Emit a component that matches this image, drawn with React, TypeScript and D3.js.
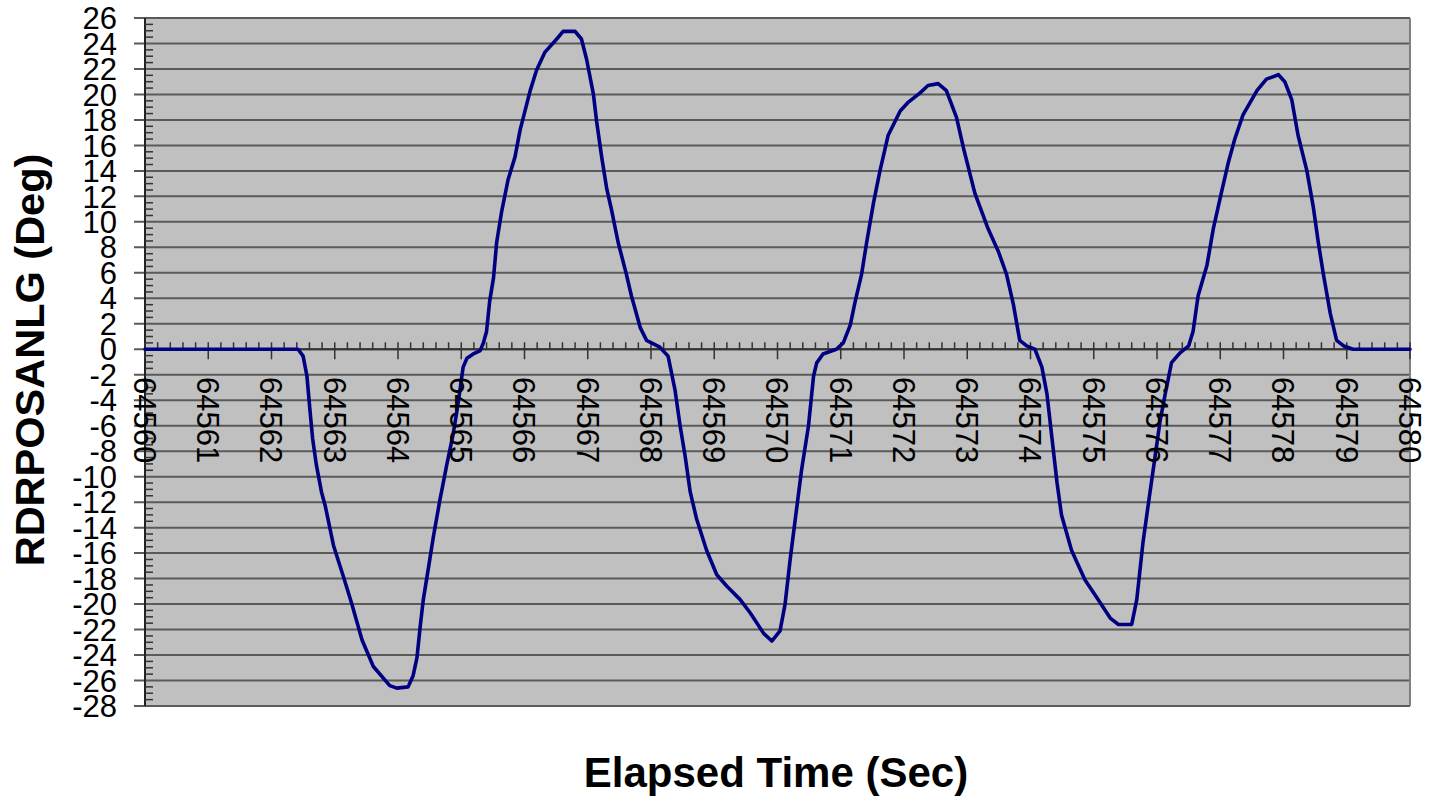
import React from "react";
import * as d3 from "d3";

const times: number[] = [
  64560, 64562.42, 64562.5, 64562.56, 64562.61, 64562.65, 64562.71, 64562.79, 64562.85, 64562.98,
  64563.14, 64563.27, 64563.43, 64563.61, 64563.87, 64563.98, 64564.16, 64564.24, 64564.3, 64564.35,
  64564.4, 64564.48, 64564.56, 64564.66, 64564.77, 64564.87, 64564.93, 64564.98, 64565.03, 64565.09,
  64565.19, 64565.3, 64565.35, 64565.4, 64565.45, 64565.51, 64565.56, 64565.64, 64565.74, 64565.85,
  64565.93, 64566.09, 64566.19, 64566.32, 64566.51, 64566.61, 64566.8, 64566.9, 64566.98, 64567.09,
  64567.14, 64567.22, 64567.3, 64567.38, 64567.48, 64567.61, 64567.69, 64567.83, 64567.93, 64568.14,
  64568.27, 64568.38, 64568.46, 64568.54, 64568.62, 64568.72, 64568.88, 64569.04, 64569.2, 64569.41,
  64569.57, 64569.78, 64569.91, 64570.04, 64570.12, 64570.2, 64570.3, 64570.38, 64570.49, 64570.57,
  64570.62, 64570.72, 64570.93, 64571.04, 64571.15, 64571.23, 64571.33, 64571.41, 64571.52, 64571.62,
  64571.75, 64571.94, 64572.07, 64572.25, 64572.38, 64572.54, 64572.67, 64572.83, 64572.94, 64573.12,
  64573.33, 64573.49, 64573.62, 64573.73, 64573.83, 64573.94, 64574.07, 64574.18, 64574.26, 64574.34,
  64574.42, 64574.49, 64574.65, 64574.86, 64575.05, 64575.26, 64575.39, 64575.6, 64575.68, 64575.78,
  64575.89, 64575.97, 64576.05, 64576.13, 64576.23, 64576.36, 64576.5, 64576.57, 64576.65, 64576.79,
  64576.89, 64577.0, 64577.13, 64577.23, 64577.36, 64577.58, 64577.73, 64577.92, 64578.02, 64578.13,
  64578.23, 64578.37, 64578.47, 64578.55, 64578.63, 64578.74, 64578.84, 64578.95, 64579.1, 64580,
];

const angles: number[] = [
  0, 0, -0.54, -2.1, -4.9, -7.0, -9.1, -11.2, -12.3, -15.4,
  -17.9, -20.0, -22.8, -24.9, -26.4, -26.6, -26.5, -25.6, -24.2, -21.8,
  -19.65, -17.2, -14.7, -11.9, -9.1, -6.7, -4.9, -3.2, -1.4, -0.7,
  -0.37, -0.1, 0.5, 1.4, 3.8, 5.6, 8.4, 10.85, 13.3, 15.1,
  17.2, 20.3, 21.9, 23.3, 24.35, 24.95, 24.95, 24.35, 22.8, 20.0,
  17.9, 15.1, 12.6, 10.85, 8.4, 5.9, 4.2, 1.7, 0.7, 0.16,
  -0.54, -3.2, -6.0, -8.4, -11.2, -13.3, -15.8, -17.7, -18.6, -19.65,
  -20.7, -22.3, -22.9, -22.1, -20.0, -16.5, -12.6, -9.5, -6.0, -2.1,
  -1.07, -0.37, 0, 0.5, 1.9, 3.8, 5.9, 8.4, 11.55, 14.0,
  16.8, 18.7, 19.4, 20.1, 20.7, 20.85, 20.3, 18.2, 15.8, 12.25,
  9.45, 7.7, 5.9, 3.5, 0.7, 0.26, 0, -1.4, -3.5, -7.0,
  -10.5, -13.0, -15.8, -18.1, -19.5, -21.1, -21.6, -21.6, -19.65, -15.1,
  -11.2, -8.4, -5.6, -3.5, -1.05, -0.3, 0.26, 1.4, 4.2, 6.6,
  9.45, 11.9, 14.7, 16.5, 18.4, 20.3, 21.2, 21.55, 21.0, 19.6,
  16.8, 14.0, 11.2, 8.4, 5.9, 2.8, 0.7, 0.26, 0, 0,
];

const xTickValues: number[] = d3.range(64560, 64581, 1);
const yTickValues: number[] = d3.range(-28, 27, 2);

const xTitle = "Elapsed Time (Sec)";
const yTitle = "RDRPOSANLG (Deg)";

export default function App() {
  const W = 1432;
  const H = 796;
  const left = 145;
  const right = 1410;
  const top = 18;
  const bottom = 706;

  const x = d3.scaleLinear().domain([64560, 64580]).range([left, right]);
  const y = d3.scaleLinear().domain([-28, 26]).range([bottom, top]);

  const data = times.map((t, i) => ({ t, v: angles[i] }));
  const line = d3
    .line<{ t: number; v: number }>()
    .x((d) => x(d.t))
    .y((d) => y(d.v));

  const xMinor = d3.range(64560, 64580.001, 0.2).filter((v) => Math.abs(v - Math.round(v)) > 0.01);
  const yMinor = d3.range(-28, 26.001, 0.5).filter((v) => Math.abs(v / 2 - Math.round(v / 2)) > 0.01);

  const y0 = y(0);
  const font = "'Liberation Sans', Arial, Helvetica, sans-serif";

  return (
    <div style={{ position: "absolute", left: 0, top: 0, width: W, height: H, background: "#fff" }}>
      <svg width={W} height={H} style={{ display: "block" }}>
        <rect x={left} y={top} width={right - left} height={bottom - top} fill="#C0C0C0" />
        {yTickValues.map((v) => (
          <line key={"g" + v} x1={left - 11} x2={right} y1={y(v)} y2={y(v)} stroke="#5a5a5a" strokeWidth={2} />
        ))}
        <line x1={right} x2={right} y1={top} y2={bottom} stroke="#808080" strokeWidth={2} />
        <line x1={left} x2={left} y1={top} y2={bottom} stroke="#222" strokeWidth={2} />
        {yMinor.map((v) => (
          <line key={"ym" + v} x1={left} x2={left + 8} y1={y(v)} y2={y(v)} stroke="#333" strokeWidth={1.5} />
        ))}
        {yTickValues.map((v) => (
          <text
            key={"yl" + v}
            x={117}
            y={y(v)}
            dy="0.36em"
            textAnchor="end"
            fontFamily={font}
            fontSize={31}
            fill="#000"
          >
            {v}
          </text>
        ))}
        <line x1={left} x2={right} y1={y0} y2={y0} stroke="#333" strokeWidth={2} />
        {xMinor.map((v) => (
          <line key={"xm" + v} x1={x(v)} x2={x(v)} y1={y0 - 7} y2={y0} stroke="#333" strokeWidth={1.5} />
        ))}
        {xTickValues.map((v) => (
          <line key={"xt" + v} x1={x(v)} x2={x(v)} y1={y0 - 7} y2={y0 + 10} stroke="#333" strokeWidth={1.5} />
        ))}
        <path d={line(data) || ""} fill="none" stroke="#000080" strokeWidth={3.6} strokeLinejoin="round" strokeLinecap="round" />
        {xTickValues.map((v) => (
          <text
            key={"xl" + v}
            transform={`translate(${x(v)},${377}) rotate(90)`}
            dy="0.36em"
            textAnchor="start"
            fontFamily={font}
            fontSize={31}
            fill="#000"
          >
            {v}
          </text>
        ))}
        <text
          x={776}
          y={787}
          textAnchor="middle"
          fontFamily={font}
          fontWeight="bold"
          fontSize={42}
          fill="#000"
        >
          {xTitle}
        </text>
        <text
          transform={`translate(44,360) rotate(-90)`}
          textAnchor="middle"
          fontFamily={font}
          fontWeight="bold"
          fontSize={41.5}
          fill="#000"
        >
          {yTitle}
        </text>
      </svg>
    </div>
  );
}
